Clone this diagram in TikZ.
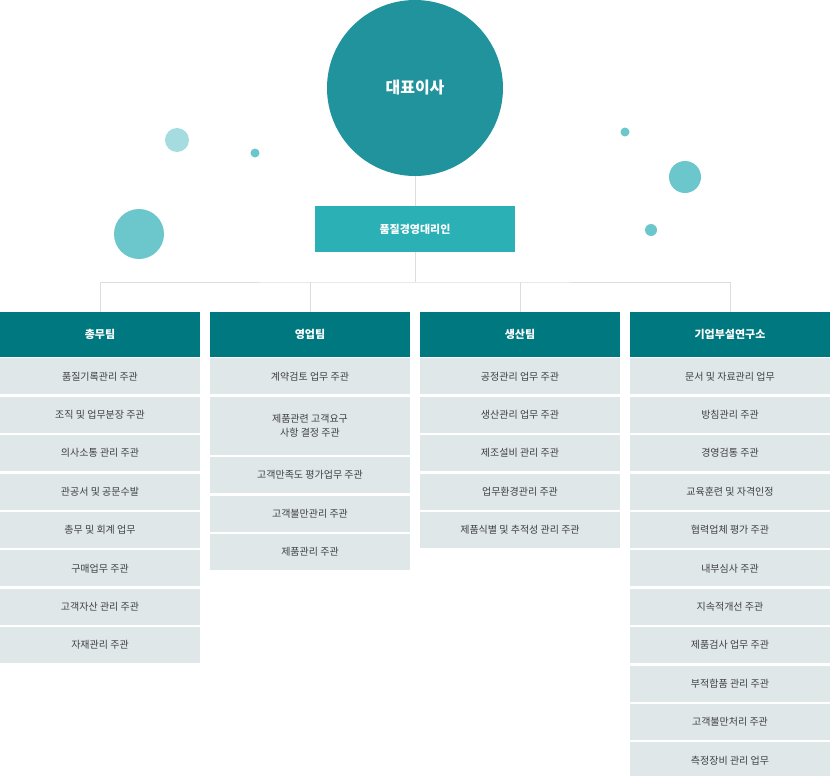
\documentclass[tikz,border=0pt]{standalone}
\usepackage{fontspec}
\setmainfont{Noto Sans CJK KR}
\usetikzlibrary{positioning,chains}
\definecolor{ceoteal}{HTML}{21939D}
\definecolor{repteal}{HTML}{2BB0B6}
\definecolor{headteal}{HTML}{007880}
\definecolor{itemgray}{HTML}{DFE7E9}
\definecolor{linegray}{HTML}{DDDDDD}
\definecolor{dotlight}{HTML}{A5DCE0}
\definecolor{dotmid}{HTML}{6CC7CD}
\tikzset{
  team/.style={fill=headteal,text=white,font=\bfseries\fontsize{11}{13}\selectfont,minimum width=200pt,minimum height=45pt,inner sep=0pt},
  duty/.style={fill=itemgray,text=black!75,font=\fontsize{10}{14}\selectfont,minimum width=200pt,minimum height=36pt,inner sep=0pt,align=center,on chain},
  wire/.style={draw=linegray,line width=0.8pt}
}
\begin{document}
\begin{tikzpicture}[x=1pt,y=-1pt]
\useasboundingbox (0,0) rectangle (830,776);

% decoration dots
\fill[dotlight] (177,140) circle (12);
\fill[dotmid] (255,153) circle (4.5);
\fill[dotmid] (139,234) circle (25);
\fill[dotmid] (625,132) circle (4.5);
\fill[dotmid] (685,177) circle (16);
\fill[dotmid] (651,230) circle (6);

% top
\node[circle,fill=ceoteal,minimum size=176pt,text=white,font=\bfseries\fontsize{16}{18}\selectfont] (ceo) at (415,88) {대표이사};
\node[fill=repteal,text=white,font=\bfseries\fontsize{11}{13}\selectfont,minimum width=200pt,minimum height=46pt] (rep) at (415,229) {품질경영대리인};
\coordinate (hub) at (415,282);

% teams
\node[team] (admin) at (100,334.5) {총무팀};
\node[team] (sales) at (310,334.5) {영업팀};
\node[team] (prod) at (520,334.5) {생산팀};
\node[team] (lab) at (730,334.5) {기업부설연구소};

\draw[wire] (ceo) -- (rep);
\draw[wire] (rep) -- (hub);
\draw[wire] (admin.north) |- (hub) -| (lab.north);
\draw[wire] (sales.north) -- (sales.north |- hub);
\draw[wire] (prod.north) -- (prod.north |- hub);

\begin{scope}[start chain=admin going below,node distance=2pt]
\chainin (admin);
\node[duty,yshift=1pt] (a1) {품질기록관리 주관};
\node[duty] (a2) {조직 및 업무분장 주관};
\node[duty] (a3) {의사소통 관리 주관};
\node[duty] (a4) {관공서 및 공문수발};
\node[duty] (a5) {총무 및 회계 업무};
\node[duty] (a6) {구매업무 주관};
\node[duty] (a7) {고객자산 관리 주관};
\node[duty] (a8) {자재관리 주관};
\end{scope}

\begin{scope}[start chain=sales going below,node distance=2pt]
\chainin (sales);
\node[duty,yshift=1pt] (s1) {계약검토 업무 주관};
\node[duty,minimum height=58pt] (s2) {제품관련 고객요구\\사항 결정 주관};
\node[duty] (s3) {고객만족도 평가업무 주관};
\node[duty] (s4) {고객불만관리 주관};
\node[duty] (s5) {제품관리 주관};
\end{scope}

\begin{scope}[start chain=prod going below,node distance=2pt]
\chainin (prod);
\node[duty,yshift=1pt] (p1) {공정관리 업무 주관};
\node[duty] (p2) {생산관리 업무 주관};
\node[duty] (p3) {제조설비 관리 주관};
\node[duty] (p4) {업무환경관리 주관};
\node[duty] (p5) {제품식별 및 추적성 관리 주관};
\end{scope}

\begin{scope}[start chain=lab going below,node distance=2pt]
\chainin (lab);
\node[duty,yshift=1pt] (l1) {문서 및 자료관리 업무};
\node[duty] (l2) {방침관리 주관};
\node[duty] (l3) {경영검통 주관};
\node[duty] (l4) {교육훈련 및 자격인정};
\node[duty] (l5) {협력업체 평가 주관};
\node[duty] (l6) {내부심사 주관};
\node[duty] (l7) {지속적개선 주관};
\node[duty] (l8) {제품검사 업무 주관};
\node[duty] (l9) {부적합품 관리 주관};
\node[duty] (l10) {고객불만처리 주관};
\node[duty] (l11) {측정장비 관리 업무};
\end{scope}
\end{tikzpicture}
\end{document}
